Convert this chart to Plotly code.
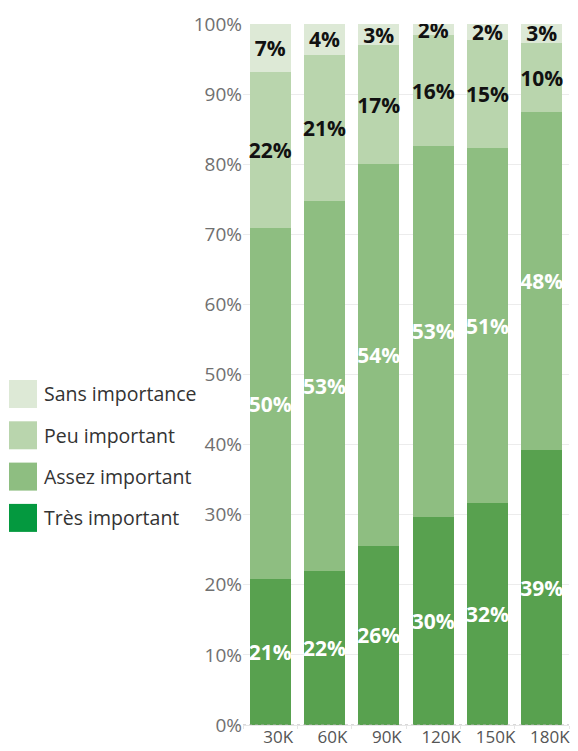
import plotly.graph_objects as go

# Données (part des réponses, en %)
categories = ["30K", "60K", "90K", "120K", "150K", "180K"]
tres_important = [20.8, 22.0, 25.6, 29.7, 31.6, 39.2]
assez_important = [50.1, 52.8, 54.4, 52.9, 50.7, 48.2]
peu_important = [22.3, 20.8, 17.0, 15.8, 15.4, 9.9]
sans_importance = [6.8, 4.4, 3.0, 1.6, 2.3, 2.7]
y_ticks = [0, 10, 20, 30, 40, 50, 60, 70, 80, 90, 100]

# la page html ajoute une marge de 8 px (body) : on compense
OFF = 8
W, H = 578 - OFF, 751 - OFF
M_LEFT, M_RIGHT, M_TOP, M_BOTTOM = 243 - OFF, 9, 24 - OFF, 26
FONT = "Open Sans"

series = [
    ("Très important", tres_important, "#58a14f", "#ffffff", "#04993f"),
    ("Assez important", assez_important, "#8ebe81", "#ffffff", "#8ebe81"),
    ("Peu important", peu_important, "#b9d5ad", "#111111", "#b9d5ad"),
    ("Sans importance", sans_importance, "#dde9d6", "#111111", "#dde9d6"),
]

fig = go.Figure()
for name, vals, color, txtcolor, _ in series:
    fig.add_trace(
        go.Bar(
            x=categories,
            y=vals,
            name=name,
            marker=dict(color=color, line=dict(width=0)),
            texttemplate="%{y:.0f}%",
            textposition="inside",
            insidetextanchor="middle",
            textangle=0,
            constraintext="none",
            textfont=dict(family=FONT, size=21, color=txtcolor, weight="bold"),
            showlegend=False,
        )
    )


# légende dessinée à la main (carrés pleins à gauche)
def px_to_paper_x(px):
    return (px - OFF - M_LEFT) / (W - M_LEFT - M_RIGHT)


def px_to_paper_y(py):
    return (H - M_BOTTOM - (py - OFF)) / (H - M_TOP - M_BOTTOM)


legend_rows = [(s[0], s[4]) for s in reversed(series)]
for i, (name, swatch) in enumerate(legend_rows):
    top = 380 + i * 41.3
    fig.add_shape(
        type="rect",
        xref="paper",
        yref="paper",
        x0=px_to_paper_x(9),
        x1=px_to_paper_x(37),
        y0=px_to_paper_y(top + 28),
        y1=px_to_paper_y(top),
        fillcolor=swatch,
        line=dict(width=0),
        layer="above",
    )
    fig.add_annotation(
        xref="paper",
        yref="paper",
        x=px_to_paper_x(42),
        y=px_to_paper_y(top + 14),
        xanchor="left",
        yanchor="middle",
        text=name,
        showarrow=False,
        font=dict(family=FONT, size=19.5, color="#333333"),
    )

# ligne de base pointillée
fig.add_shape(
    type="line",
    xref="paper",
    yref="y",
    x0=0,
    x1=1,
    y0=0,
    y1=0,
    line=dict(color="#b0b0b0", width=1, dash="dot"),
    layer="above",
)

fig.update_layout(
    width=W,
    height=H,
    barmode="stack",
    bargap=0.24,
    margin=dict(l=M_LEFT, r=M_RIGHT, t=M_TOP, b=M_BOTTOM, autoexpand=False),
    plot_bgcolor="white",
    paper_bgcolor="white",
    font=dict(family=FONT, color="#666666"),
    showlegend=False,
)

fig.update_yaxes(
    range=[0, 100],
    tickvals=y_ticks,
    ticktext=[f"{v}%" for v in y_ticks],
    tickfont=dict(family=FONT, size=19, color="#707070"),
    showgrid=True,
    gridcolor="#ececec",
    gridwidth=1,
    zeroline=False,
    ticks="",
    ticklabelstandoff=0,
    automargin=False,
)

fig.update_xaxes(
    tickfont=dict(family=FONT, size=17, color="#555555"),
    showline=True,
    linecolor="#e6e6e6",
    ticks="outside",
    tickson="boundaries",
    ticklen=3,
    tickcolor="#e6e6e6",
    ticklabelshift=8,
    ticklabelstandoff=-3,
    automargin=False,
)

fig.write_html("out.html")
